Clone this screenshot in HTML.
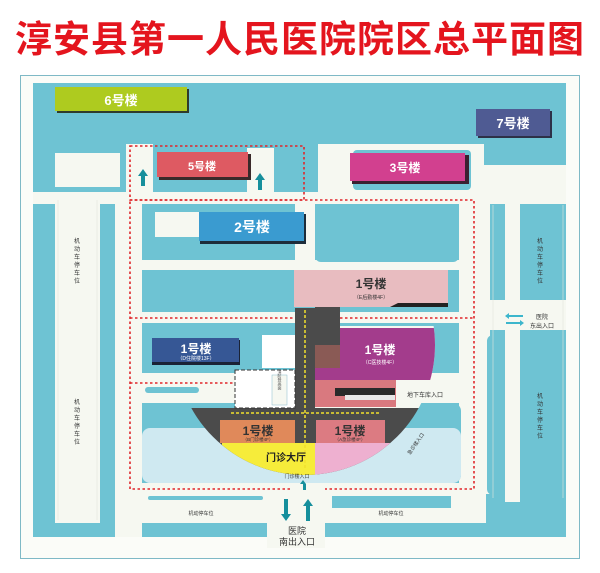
<!DOCTYPE html>
<html><head><meta charset="utf-8"><style>
html,body{margin:0;padding:0;background:#fff}
svg{display:block}
text{font-family:"Liberation Sans","Noto Sans CJK SC",sans-serif}
</style></head><body>
<svg width="600" height="573" viewBox="0 0 600 573" xmlns="http://www.w3.org/2000/svg">
<rect width="600" height="573" fill="#fff"/>
<text x="300" y="52" text-anchor="middle" font-size="37" font-weight="bold" fill="#e4151e" font-family="'Noto Sans CJK SC',sans-serif" letter-spacing="1">淳安县第一人民医院院区总平面图</text>
<rect x="20.5" y="75.5" width="559" height="483" fill="#fbfcf8" stroke="#7fb9c6" stroke-width="1"/>
<rect x="33" y="83" width="533" height="454" fill="#6ec3d3"/>
<g fill="#f6f8f1">
<rect x="55" y="153" width="65" height="34"/>
<rect x="33" y="192" width="533" height="12"/>
<rect x="126" y="144" width="27" height="60"/>
<rect x="247" y="148" width="27" height="56"/>
<rect x="318" y="144" width="166" height="60"/>
<rect x="484" y="165" width="82" height="27"/>
<rect x="55" y="192" width="45" height="331"/>
<rect x="115" y="192" width="27" height="345"/>
<rect x="295" y="192" width="20" height="80"/>
<rect x="142" y="260" width="317" height="10"/>
<rect x="459" y="192" width="31" height="302"/>
<rect x="490" y="192" width="76" height="12"/>
<rect x="490" y="300" width="76" height="30"/>
<rect x="142" y="312" width="317" height="11"/>
<rect x="142" y="373" width="317" height="30"/>
<rect x="115" y="483" width="371" height="40"/>
<rect x="267" y="523" width="58" height="25"/>
<rect x="505" y="204" width="15" height="100"/>
<rect x="505" y="330" width="15" height="172"/>
</g>
<g fill="#6ec3d3">
<rect x="353" y="150" width="118" height="40" rx="4"/>
<rect x="142" y="205" width="153" height="55" rx="6"/>
<rect x="315" y="205" width="144" height="57" rx="6"/>
<rect x="142" y="323" width="120" height="50" rx="6"/>
<rect x="145" y="387" width="54" height="6" rx="3"/>
<rect x="148" y="496" width="115" height="4" rx="2"/>
<rect x="332" y="496" width="119" height="12"/>
<rect x="486" y="502" width="80" height="35" rx="10"/>
<rect x="487" y="335" width="18" height="160" rx="6"/>
</g>
<rect x="142" y="403" width="319" height="80" rx="8" fill="#6ec3d3"/>
<rect x="142" y="428" width="319" height="55" rx="8" fill="#cfe9f1"/>
<rect x="155" y="212" width="44" height="25" fill="#f6f8f1"/>
<g stroke="#e3e6dc" stroke-width="0.6">
<path d="M58 200V520M97 200V520M493 205V498M563 205V498"/>
</g>
<g fill="none" stroke="#e0262b" stroke-width="1.6" stroke-dasharray="2.5,2.5">
<path d="M130 146H304V200H130Z"/>
<path d="M130 200H474V489H325M290 489H130V200"/>
<path d="M130 318H474"/>
<path d="M130 383H235"/>
</g>
<rect x="57" y="89" width="132" height="24" fill="#2f3b2b"/>
<rect x="55" y="87" width="132" height="24" fill="#aecb1f"/>
<text x="121" y="105" text-anchor="middle" font-size="13" font-weight="bold" fill="#fff">6号楼</text>
<rect x="478" y="111" width="74" height="27" fill="#2d3148"/>
<rect x="476" y="109" width="74" height="27" fill="#4f5b93"/>
<text x="513" y="128" text-anchor="middle" font-size="13" font-weight="bold" fill="#fff">7号楼</text>
<rect x="159" y="154" width="92" height="26" fill="#3a2a2a"/>
<rect x="157" y="152" width="91" height="25" fill="#de5a62"/>
<text x="202" y="170" text-anchor="middle" font-size="11" font-weight="bold" fill="#fff">5号楼</text>
<rect x="352" y="155" width="117" height="29" fill="#3a2030"/>
<rect x="350" y="153" width="115" height="28" fill="#d2408f"/>
<text x="405" y="172" text-anchor="middle" font-size="12" font-weight="bold" fill="#fff">3号楼</text>
<rect x="200" y="214" width="106" height="30" fill="#1d2d3a"/>
<rect x="199" y="212" width="105" height="29" fill="#3a9bd0"/>
<text x="252" y="232" text-anchor="middle" font-size="14" font-weight="bold" fill="#fff">2号楼</text>
<g fill="#168f9c">
<path d="M141 186V176H138L143 169L148 176H145V186Z"/>
<path d="M258 190V180H255L260 173L265 180H262V190Z"/>
</g>
<defs><clipPath id="c"><circle cx="305" cy="345" r="130"/></clipPath></defs>
<g clip-path="url(#c)">
<rect x="170" y="408" width="270" height="80" fill="#4b4b4b"/>
<rect x="315" y="326" width="130" height="82" fill="#f6f8f1"/>
<path d="M222 443H315V480H222Z" fill="#f6ec3a"/>
<path d="M315 443H390V480H315Z" fill="#eeb0d0"/>
<rect x="315" y="328" width="130" height="52" fill="#a33c8c"/>
</g>
<rect x="295" y="308" width="20" height="100" fill="#4b4b4b"/>
<rect x="315" y="307" width="25" height="40" fill="#4b4b4b"/>
<rect x="315" y="380" width="81" height="27" fill="#d9797f"/>
<rect x="335" y="388" width="60" height="8" fill="#2a2a2a"/>
<rect x="345" y="395" width="50" height="5" fill="#e8e8e8"/>
<path d="M315 345H340V368H315Z" fill="#8a5a55"/>
<path d="M305 310V470M231 413H381" stroke="#f1e02c" stroke-width="1.5" stroke-dasharray="3,2" fill="none"/>
<rect x="294" y="270" width="154" height="37" fill="#e8bcc0"/>
<path d="M390 307H448V303H398Z" fill="#222"/>
<text x="371" y="288" text-anchor="middle" font-size="12" font-weight="bold" fill="#333">1号楼</text>
<text x="371" y="299" text-anchor="middle" font-size="5" fill="#333">（E后勤楼4F）</text>
<text x="380" y="354" text-anchor="middle" font-size="12" font-weight="bold" fill="#fff">1号楼</text>
<text x="380" y="364" text-anchor="middle" font-size="5" fill="#fff">（C医技楼4F）</text>
<rect x="152" y="340" width="88" height="25" fill="#1a2336"/>
<rect x="152" y="338" width="87" height="24" fill="#365795"/>
<text x="196" y="353" text-anchor="middle" font-size="12" font-weight="bold" fill="#fff">1号楼</text>
<text x="196" y="360" text-anchor="middle" font-size="5" fill="#fff">（D住院楼13F）</text>
<rect x="262" y="335" width="33" height="33" fill="#fff"/>
<rect x="235" y="370" width="60" height="38" fill="#fff" stroke="#333" stroke-dasharray="4,2" stroke-width="1"/>
<rect x="272" y="375" width="15" height="30" fill="#f6f8f1" stroke="#8bc" stroke-width="0.5"/>
<text x="280" y="380" text-anchor="middle" font-size="4" fill="#555" writing-mode="tb">消防登高面</text>
<rect x="220" y="420" width="75" height="23" fill="#e0895a"/>
<text x="258" y="435" text-anchor="middle" font-size="12" font-weight="bold" fill="#333">1号楼</text>
<text x="258" y="441" text-anchor="middle" font-size="4.5" fill="#333">（B门诊楼4F）</text>
<rect x="316" y="420" width="69" height="23" fill="#dc7b82"/>
<text x="350" y="435" text-anchor="middle" font-size="12" font-weight="bold" fill="#333">1号楼</text>
<text x="350" y="441" text-anchor="middle" font-size="4.5" fill="#333">（A急诊楼4F）</text>
<text x="286" y="461" text-anchor="middle" font-size="10" font-weight="bold" fill="#222">门诊大厅</text>
<text x="297" y="478" text-anchor="middle" font-size="5" fill="#333">门诊楼入口</text>
<text x="425" y="397" text-anchor="middle" font-size="6" fill="#333">地下车库入口</text>
<text x="410" y="455" font-size="5" fill="#333" transform="rotate(-55 410 455)">急诊楼入口</text>
<path d="M303 490V484H300L303 480L306 484V490Z" fill="#168f9c"/>
<g fill="#168f9c">
<path d="M284 499H288V514H291L286 521L281 514H284Z"/>
<path d="M306 521H310V506H313L308 499L303 506H306Z"/>
</g>
<text x="297" y="534" text-anchor="middle" font-size="9" fill="#333">医院</text>
<text x="297" y="545" text-anchor="middle" font-size="9" fill="#333">南出入口</text>
<text x="201" y="515" text-anchor="middle" font-size="5" fill="#333">机动停车位</text>
<text x="391" y="515" text-anchor="middle" font-size="5" fill="#333">机动停车位</text>
<g fill="#3cb6cc"><path d="M505 316L509 313V315H523V317H509V319Z"/><path d="M524 323L520 320V322H506V324H520V326Z"/></g>
<text x="542" y="319" text-anchor="middle" font-size="6" fill="#333">医院</text>
<text x="542" y="328" text-anchor="middle" font-size="6" fill="#333">东出入口</text>
<g font-size="6" fill="#333" text-anchor="middle">
<text x="77" y="243">机</text><text x="77" y="251">动</text><text x="77" y="259">车</text><text x="77" y="267">停</text><text x="77" y="275">车</text><text x="77" y="283">位</text>
<text x="77" y="404">机</text><text x="77" y="412">动</text><text x="77" y="420">车</text><text x="77" y="428">停</text><text x="77" y="436">车</text><text x="77" y="444">位</text>
<text x="540" y="243">机</text><text x="540" y="251">动</text><text x="540" y="259">车</text><text x="540" y="267">停</text><text x="540" y="275">车</text><text x="540" y="283">位</text>
<text x="540" y="398">机</text><text x="540" y="406">动</text><text x="540" y="414">车</text><text x="540" y="422">停</text><text x="540" y="430">车</text><text x="540" y="438">位</text>
</g>
</svg>
</body></html>
